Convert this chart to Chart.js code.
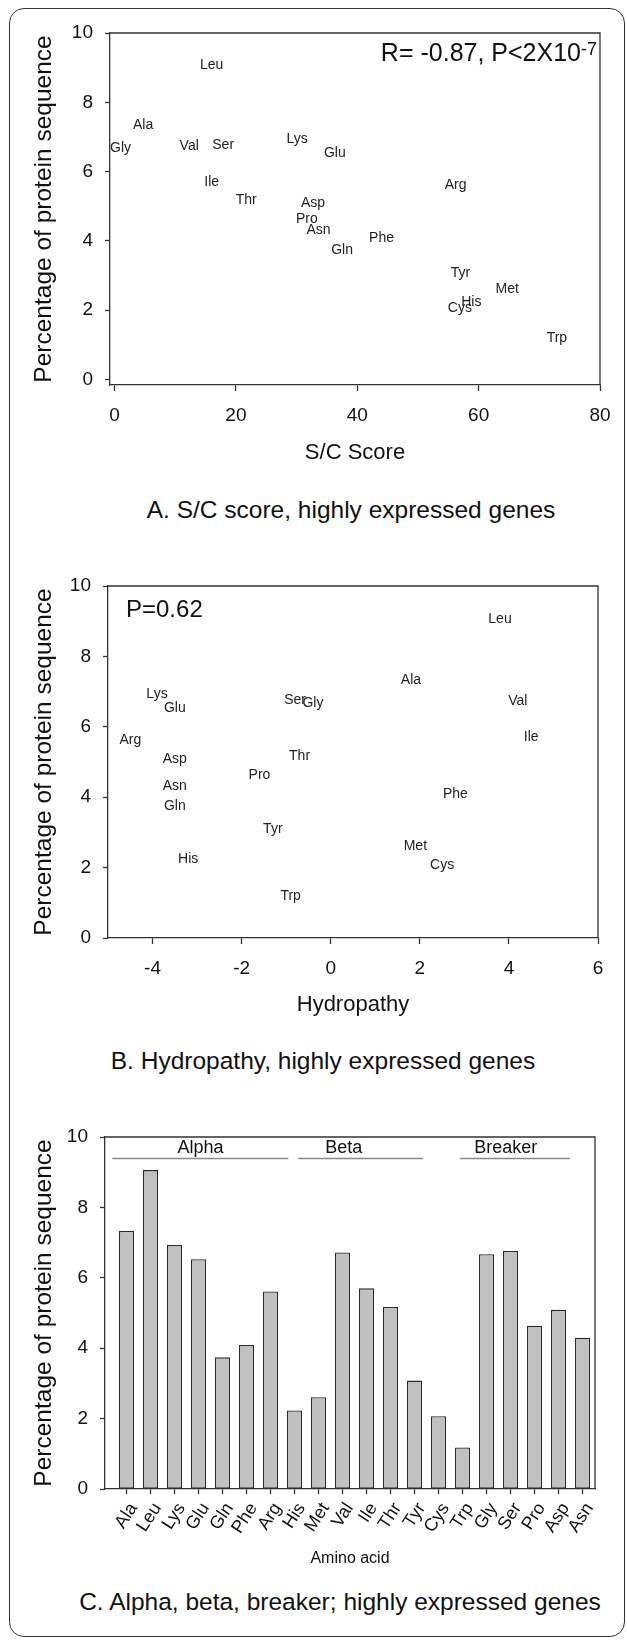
<!DOCTYPE html>
<html>
<head>
<meta charset="utf-8">
<script src="https://cdn.jsdelivr.net/npm/chart.js@4.4.1/dist/chart.umd.min.js"></script>
<style>
  html, body { margin: 0; padding: 0; background: #fff; }
  body { position: relative; width: 627px; height: 1640px; overflow: hidden;
         font-family: 'Liberation Sans', Arial, sans-serif; color: #111; }
  .frame { position: absolute; left: 9px; top: 8px; width: 616px; height: 1629px;
           box-sizing: border-box; border: 1.5px solid #333; border-radius: 15px; }
  canvas { position: absolute; left: 0; }
  .caption { position: absolute; width: 600px; text-align: center; font-size: 24.5px;
             line-height: 24px; white-space: nowrap; }
</style>
</head>
<body>
<div class="frame"></div>
<canvas id="chartA" width="627" height="466" style="top:0px"></canvas>
<canvas id="chartB" width="627" height="468" style="top:550px"></canvas>
<canvas id="chartC" width="627" height="468" style="top:1100px"></canvas>
<div class="caption" style="left:51px;top:498px">A. S/C score, highly expressed genes</div>
<div class="caption" style="left:23px;top:1049px">B. Hydropathy, highly expressed genes</div>
<div class="caption" style="left:40px;top:1590px">C. Alpha, beta, breaker; highly expressed genes</div>

<script>
// amino acids in the bar-chart order
const aminoAcids = ['Ala', 'Leu', 'Lys', 'Glu', 'Gln', 'Phe', 'Arg', 'His', 'Met', 'Val',
                    'Ile', 'Thr', 'Tyr', 'Cys', 'Trp', 'Gly', 'Ser', 'Pro', 'Asp', 'Asn'];
// percentage of protein sequence, highly expressed genes
const percentSeq = [7.33, 9.06, 6.93, 6.53, 3.74, 4.09, 5.61, 2.23, 2.61, 6.72,
                    5.70, 5.17, 3.08, 2.07, 1.18, 6.67, 6.76, 4.64, 5.09, 4.30];
// S/C score
const scScore = [4.7, 16.0, 30.1, 36.3, 37.5, 44.0, 56.2, 58.8, 64.7, 12.3,
                 16.0, 21.7, 57.0, 56.9, 72.9, 1.0, 17.9, 31.7, 32.7, 33.6];
// hydropathy (Kyte-Doolittle)
const hydropathy = [1.8, 3.8, -3.9, -3.5, -3.5, 2.8, -4.5, -3.2, 1.9, 4.2,
                    4.5, -0.7, -1.3, 2.5, -0.9, -0.4, -0.8, -1.6, -3.5, -3.5];

const pctTicks = [0, 2, 4, 6, 8, 10];
const scTicks = [0, 20, 40, 60, 80];
const hydroTicks = [-4, -2, 0, 2, 4, 6];

// secondary structure groups over the bar axis (axis units)
const groupNames = ['Alpha', 'Beta', 'Breaker'];
const groupFrom = [0.41, 8.15, 14.9];
const groupTo = [7.74, 13.35, 19.48];
const groupLabelAt = [4.08, 10.05, 16.8];

const FONT = "'Liberation Sans', Arial, sans-serif";
const TEXT = '#111';
const AXIS = '#333';
Chart.defaults.font.family = FONT;
Chart.defaults.color = TEXT;

function yAxis(min, width) {
  return {
    type: 'linear', min: min, max: 10,
    afterBuildTicks: s => { s.ticks = pctTicks.map(v => ({ value: v })); },
    afterFit: s => { s.width = width; },
    border: { display: true, color: AXIS, width: 1.3 },
    grid: { drawOnChartArea: false, tickLength: 5, tickColor: AXIS, tickWidth: 1.3 },
    ticks: { font: { size: 19 }, padding: 12, color: TEXT },
    title: { display: true, text: 'Percentage of protein sequence', color: TEXT,
             font: { size: 24.5 }, padding: { top: 30 } }
  };
}

function xAxis(min, max, ticks, title, height) {
  return {
    type: 'linear', min: min, max: max, offset: false,
    afterBuildTicks: s => { s.ticks = ticks.map(v => ({ value: v })); },
    afterFit: s => { s.height = height; },
    border: { display: true, color: AXIS, width: 1.3 },
    grid: { drawOnChartArea: false, offset: false, tickLength: 6, tickColor: AXIS, tickWidth: 1.3 },
    ticks: { font: { size: 19 }, padding: 13, color: TEXT, maxRotation: 0 },
    title: { display: true, text: title, color: TEXT, font: { size: 22 }, padding: 0 }
  };
}

const boxFrame = {
  id: 'boxFrame',
  afterDraw(chart) {
    const { ctx, chartArea: a } = chart;
    ctx.save();
    ctx.strokeStyle = AXIS;
    ctx.lineWidth = 1.3;
    ctx.beginPath();
    ctx.moveTo(a.left, a.top);
    ctx.lineTo(a.right, a.top);
    ctx.lineTo(a.right, a.bottom);
    ctx.stroke();
    ctx.restore();
  }
};

// amino acid names drawn at the scatter points
const nameLabels = {
  id: 'nameLabels',
  afterDatasetsDraw(chart) {
    const ctx = chart.ctx;
    const meta = chart.getDatasetMeta(0);
    ctx.save();
    ctx.font = '14px ' + FONT;
    ctx.fillStyle = '#222';
    ctx.textAlign = 'center';
    ctx.textBaseline = 'middle';
    meta.data.forEach((pt, i) => ctx.fillText(aminoAcids[i], pt.x, pt.y));
    ctx.restore();
  }
};

function baseOptions(padTop, padRight) {
  return {
    responsive: false,
    animation: false,
    devicePixelRatio: 1,
    events: [],
    layout: { padding: { top: padTop, right: padRight, left: 0, bottom: 0 } },
    plugins: { legend: { display: false }, tooltip: { enabled: false } }
  };
}

// ---- A. S/C score
const statA = {
  id: 'statA',
  afterDraw(chart) {
    const { ctx, chartArea: a } = chart;
    ctx.save();
    ctx.fillStyle = TEXT;
    ctx.textAlign = 'right';
    ctx.textBaseline = 'alphabetic';
    ctx.font = '18px ' + FONT;
    const sup = '-7';
    const supW = ctx.measureText(sup).width;
    const xEnd = a.right - 3;
    ctx.fillText(sup, xEnd, a.top + 22);
    ctx.font = '25px ' + FONT;
    ctx.fillText('R= -0.87, P<2X10', xEnd - supW, a.top + 27.7);
    ctx.restore();
  }
};

const optsA = baseOptions(33, 27);
optsA.scales = {
  x: xAxis(-0.75, 80, scTicks, 'S/C Score', 466 - 385),
  y: yAxis(-0.16, 110)
};
new Chart(document.getElementById('chartA'), {
  type: 'scatter',
  data: {
    datasets: [{
      data: aminoAcids.map((a, i) => ({ x: scScore[i], y: percentSeq[i] })),
      pointRadius: 0, pointHoverRadius: 0
    }]
  },
  options: optsA,
  plugins: [boxFrame, nameLabels, statA]
});

// ---- B. Hydropathy
const statB = {
  id: 'statB',
  afterDraw(chart) {
    const { ctx, chartArea: a } = chart;
    ctx.save();
    ctx.fillStyle = TEXT;
    ctx.textAlign = 'left';
    ctx.textBaseline = 'alphabetic';
    ctx.font = '24px ' + FONT;
    ctx.fillText('P=0.62', a.left + 18, a.top + 31.3);
    ctx.restore();
  }
};

const optsB = baseOptions(36, 29);
optsB.scales = {
  x: xAxis(-5, 6, hydroTicks, 'Hydropathy', 1018 - 938),
  y: yAxis(0, 108)
};
new Chart(document.getElementById('chartB'), {
  type: 'scatter',
  data: {
    datasets: [{
      data: aminoAcids.map((a, i) => ({ x: hydropathy[i], y: percentSeq[i] })),
      pointRadius: 0, pointHoverRadius: 0
    }]
  },
  options: optsB,
  plugins: [boxFrame, nameLabels, statB]
});

// ---- C. Alpha, beta, breaker
const groups = {
  id: 'groups',
  afterDatasetsDraw(chart) {
    const { ctx, scales: { x, y } } = chart;
    ctx.save();
    ctx.strokeStyle = '#888';
    ctx.lineWidth = 1.5;
    ctx.fillStyle = TEXT;
    ctx.font = '18px ' + FONT;
    ctx.textAlign = 'center';
    ctx.textBaseline = 'alphabetic';
    groupNames.forEach((name, i) => {
      const ly = y.getPixelForValue(9.39);
      ctx.beginPath();
      ctx.moveTo(x.getPixelForValue(groupFrom[i]), ly);
      ctx.lineTo(x.getPixelForValue(groupTo[i]), ly);
      ctx.stroke();
      ctx.fillText(name, x.getPixelForValue(groupLabelAt[i]), y.getPixelForValue(9.54));
    });
    ctx.restore();
  }
};

const optsC = baseOptions(37, 32);
const xC = xAxis(0.104, 20.52, aminoAcids.map((a, i) => i + 1), 'Amino acid', 1568 - 1489);
xC.ticks = {
  font: { size: 18 }, padding: 5, color: TEXT, autoSkip: false,
  minRotation: 57, maxRotation: 57, labelOffset: 7,
  callback: (v, i) => aminoAcids[i]
};
xC.grid.tickLength = 5;
xC.title.font = { size: 16 };
optsC.scales = { x: xC, y: yAxis(0, 105) };
new Chart(document.getElementById('chartC'), {
  type: 'bar',
  data: {
    datasets: [{
      data: aminoAcids.map((a, i) => ({ x: i + 1, y: percentSeq[i] })),
      backgroundColor: '#c0c0c0',
      borderColor: '#2a2a2a',
      borderWidth: 1.3,
      borderSkipped: false,
      categoryPercentage: 1,
      barPercentage: 0.625
    }]
  },
  options: optsC,
  plugins: [boxFrame, groups]
});
</script>
</body>
</html>
